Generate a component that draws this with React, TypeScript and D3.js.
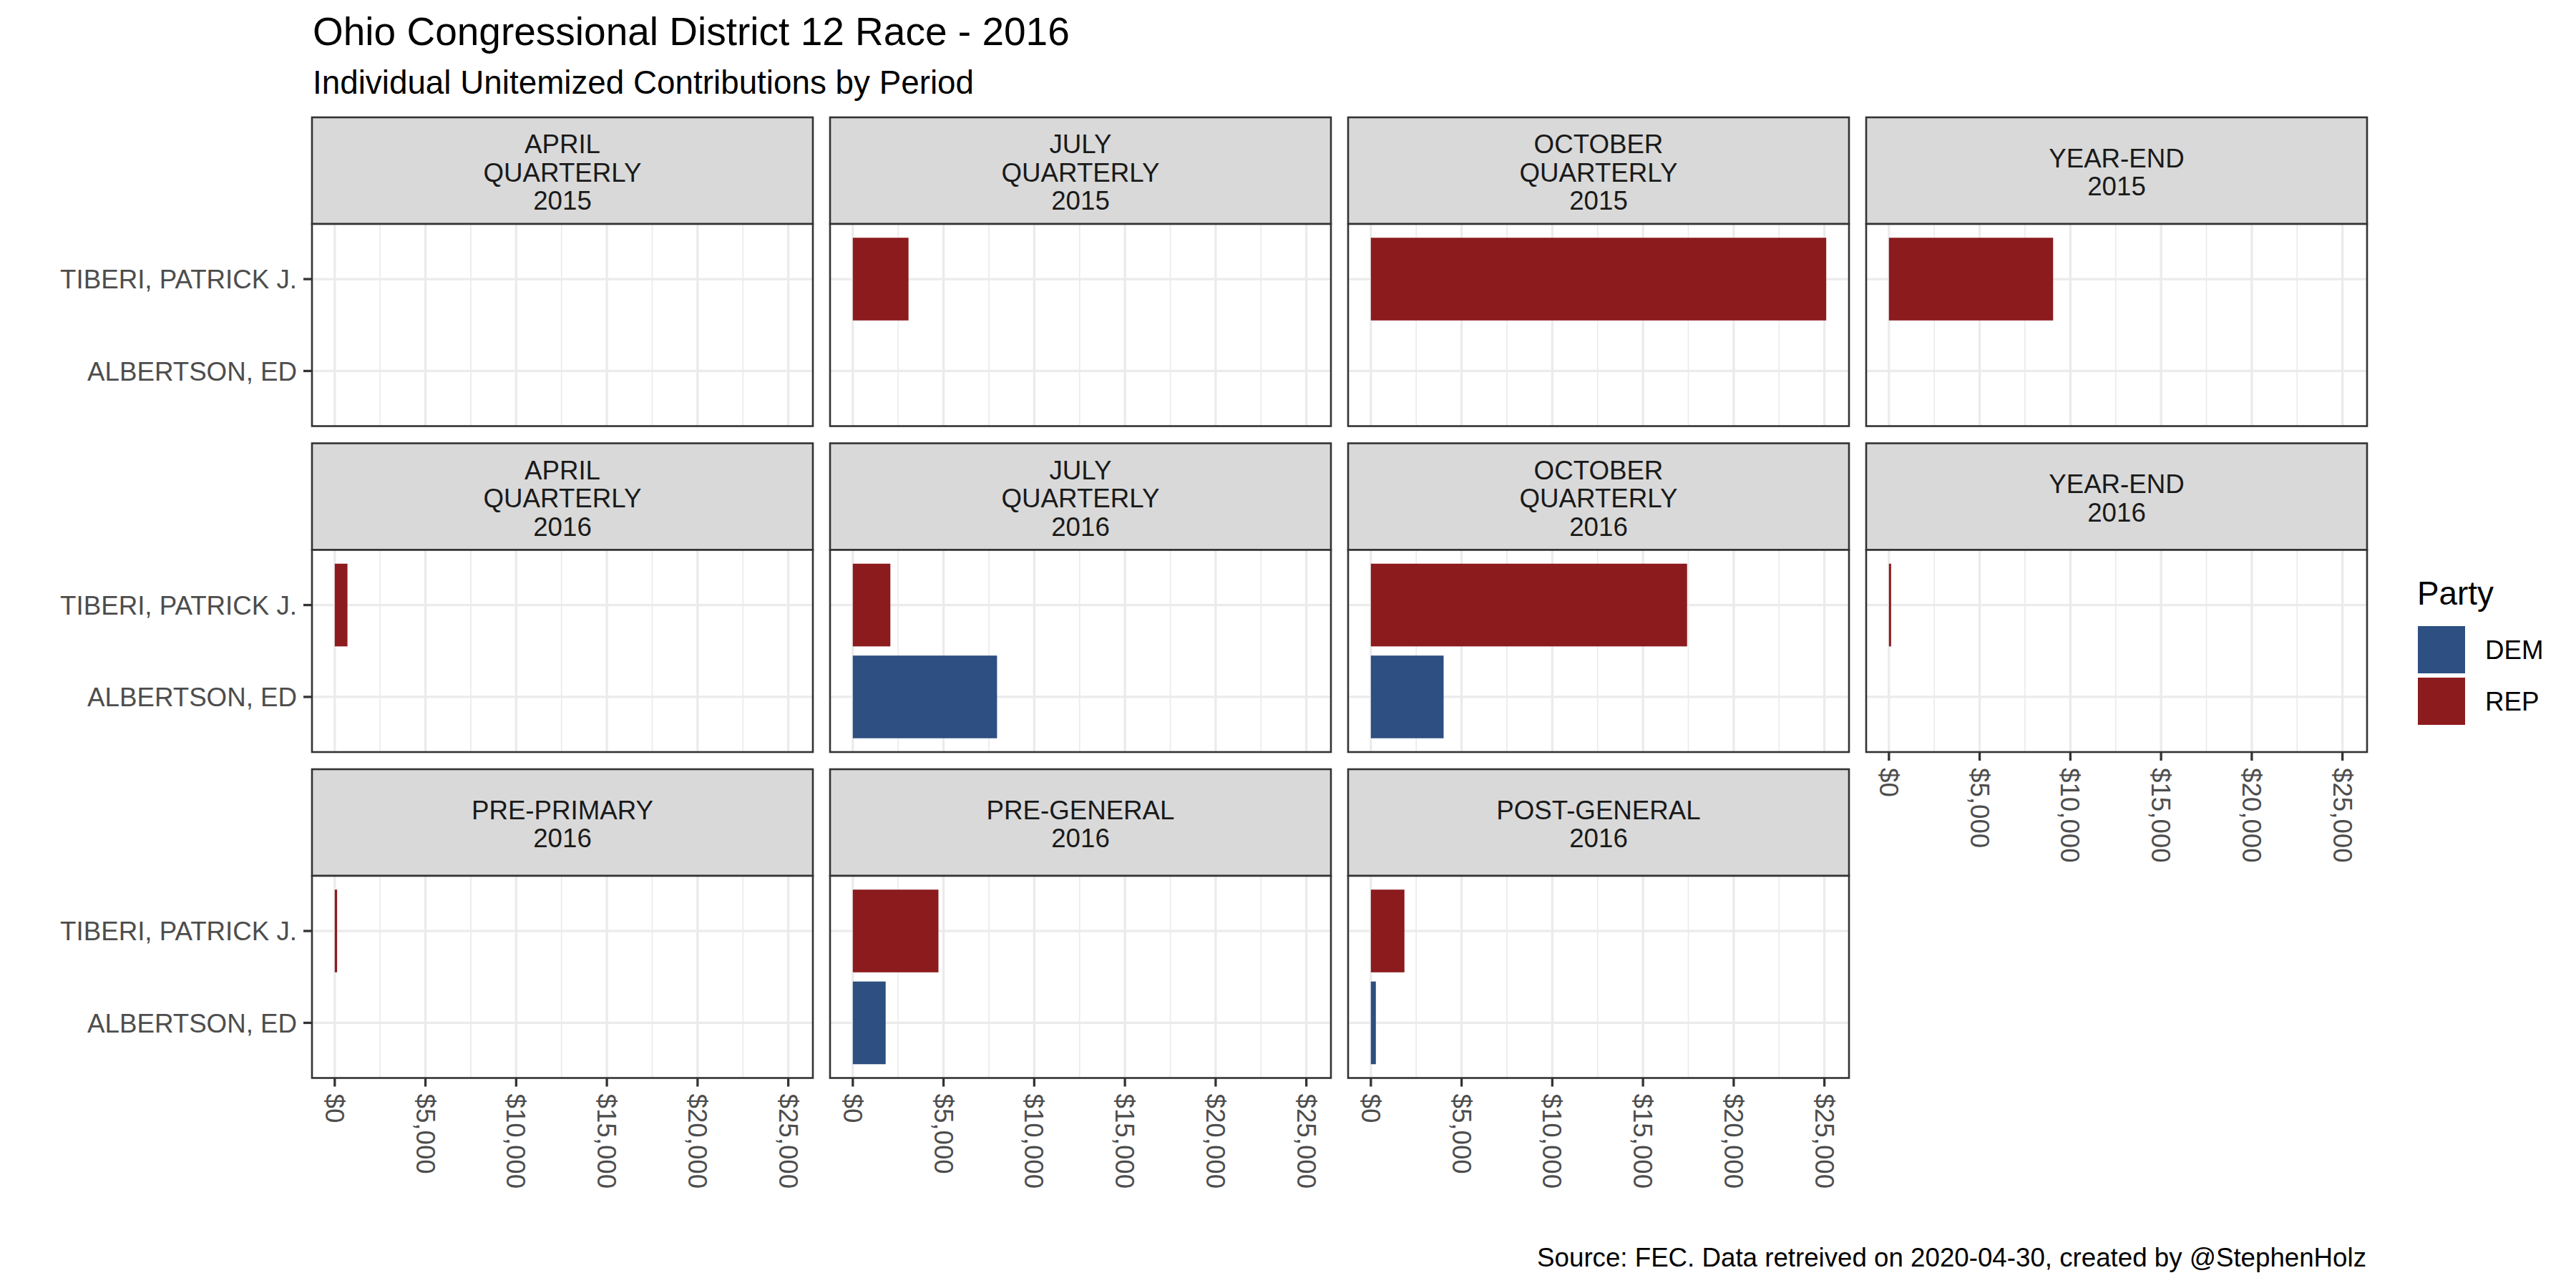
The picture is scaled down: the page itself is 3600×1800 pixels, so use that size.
import React from "react";
import * as d3 from "d3";

// ---- data ----
const periods: string[] = [
  "APRIL\nQUARTERLY\n2015",
  "JULY\nQUARTERLY\n2015",
  "OCTOBER\nQUARTERLY\n2015",
  "YEAR-END\n2015",
  "APRIL\nQUARTERLY\n2016",
  "JULY\nQUARTERLY\n2016",
  "OCTOBER\nQUARTERLY\n2016",
  "YEAR-END\n2016",
  "PRE-PRIMARY\n2016",
  "PRE-GENERAL\n2016",
  "POST-GENERAL\n2016",
];
const candidates: string[] = ["TIBERI, PATRICK J.", "ALBERTSON, ED"];
const candidateParty: string[] = ["REP", "DEM"];
const tiberiValues: (number | null)[] = [null, 3070, 25100, 9050, 700, 2070, 17430, 120, 130, 4720, 1850];
const albertsonValues: (number | null)[] = [null, null, null, null, null, 7950, 4010, null, null, 1810, 275];
const xTicks: number[] = [0, 5000, 10000, 15000, 20000, 25000];
const xMinor: number[] = [2500, 7500, 12500, 17500, 22500];
const parties: string[] = ["DEM", "REP"];
const partyColors: string[] = ["#2D4F81", "#8C1B1E"];

const W = 3600;
const H = 1800;
const COLS = 4;
const panelLeft0 = 436;
const panelW = 700;
const colGap = 24;
const rowTop0 = 164;
const rowPitch = 455.5;
const stripH = 149;
const panelH = 282.5;

const FONT = "'Liberation Sans', Arial, sans-serif";
const border = "#333333";

export default function App() {
  const maxVal = d3.max([...tiberiValues, ...albertsonValues].map((v) => v ?? 0)) as number;
  const x = d3
    .scaleLinear()
    .domain([-0.05 * maxVal, 1.05 * maxVal])
    .range([0, panelW]);
  const y = d3.scalePoint<string>().domain(candidates).range([0, panelH]).padding(0.6);
  const bandH = y.step() * 0.9;
  const color = d3.scaleOrdinal<string, string>().domain(parties).range(partyColors);
  const fmt = (v: number) => "$" + d3.format(",")(v);
  const seriesByCand = [tiberiValues, albertsonValues];
  const nRows = Math.ceil(periods.length / COLS);

  const panels = periods.map((label, i) => {
    const col = i % COLS;
    const row = Math.floor(i / COLS);
    const px = panelLeft0 + col * (panelW + colGap);
    const sy = rowTop0 + row * rowPitch;
    const py = sy + stripH;
    const lines = label.split("\n");
    const stripCenter = sy + stripH / 2;
    const showX = row === nRows - 1 || i + COLS >= periods.length;
    const showY = col === 0;
    return (
      <g key={i}>
        {/* strip */}
        <rect x={px} y={sy} width={panelW} height={stripH} fill="#D9D9D9" stroke={border} strokeWidth={2.6} />
        {lines.map((ln, k) => (
          <text
            key={k}
            x={px + panelW / 2}
            y={stripCenter + 15 + (k - (lines.length - 1) / 2) * 39.5}
            textAnchor="middle"
            fontFamily={FONT}
            fontSize={36.7}
            fill="#1A1A1A"
          >
            {ln}
          </text>
        ))}
        {/* panel */}
        <g transform={`translate(${px},${py})`}>
          <rect x={0} y={0} width={panelW} height={panelH} fill="#FFFFFF" />
          {xMinor.map((t) => (
            <line key={"m" + t} x1={x(t)} x2={x(t)} y1={0} y2={panelH} stroke="#EBEBEB" strokeWidth={1.7} />
          ))}
          {candidates.map((c) => (
            <line key={"h" + c} x1={0} x2={panelW} y1={y(c)} y2={y(c)} stroke="#EBEBEB" strokeWidth={3.3} />
          ))}
          {xTicks.map((t) => (
            <line key={"M" + t} x1={x(t)} x2={x(t)} y1={0} y2={panelH} stroke="#EBEBEB" strokeWidth={3.3} />
          ))}
          {candidates.map((c, ci) => {
            const v = seriesByCand[ci][i];
            if (v == null) return null;
            return (
              <rect
                key={"b" + c}
                x={x(0)}
                y={(y(c) as number) - bandH / 2}
                width={Math.max(0, x(v) - x(0))}
                height={bandH}
                fill={color(candidateParty[ci])}
              />
            );
          })}
          <rect x={0} y={0} width={panelW} height={panelH} fill="none" stroke={border} strokeWidth={2.6} />
          {showY &&
            candidates.map((c) => (
              <g key={"yl" + c}>
                <line x1={-12} x2={0} y1={y(c)} y2={y(c)} stroke={border} strokeWidth={3.3} />
                <text
                  x={-21}
                  y={y(c)}
                  dy="0.36em"
                  textAnchor="end"
                  fontFamily={FONT}
                  fontSize={36.7}
                  fill="#4D4D4D"
                >
                  {c}
                </text>
              </g>
            ))}
          {showX &&
            xTicks.map((t) => (
              <g key={"xl" + t}>
                <line x1={x(t)} x2={x(t)} y1={panelH} y2={panelH + 12} stroke={border} strokeWidth={3.3} />
                <text
                  transform={`translate(${x(t)},${panelH + 22}) rotate(90)`}
                  textAnchor="start"
                  dy="0.35em"
                  fontFamily={FONT}
                  fontSize={36.7}
                  fill="#4D4D4D"
                >
                  {fmt(t)}
                </text>
              </g>
            ))}
        </g>
      </g>
    );
  });

  return (
    <svg
      width={W}
      height={H}
      viewBox={`0 0 ${W} ${H}`}
      style={{ position: "absolute", left: 0, top: 0, background: "#FFFFFF" }}
    >
      <rect x={0} y={0} width={W} height={H} fill="#FFFFFF" />
      <text x={437} y={63} fontFamily={FONT} fontSize={55} fill="#000000">
        Ohio Congressional District 12 Race - 2016
      </text>
      <text x={437} y={131} fontFamily={FONT} fontSize={45.8} fill="#000000">
        Individual Unitemized Contributions by Period
      </text>
      {panels}
      {/* legend */}
      <text x={3378} y={845} fontFamily={FONT} fontSize={45.8} fill="#000000">
        Party
      </text>
      {parties.map((p, k) => (
        <g key={p} transform={`translate(3376,${872 + k * 72})`}>
          <rect x={3} y={3} width={66} height={66} fill={color(p)} />
          <text x={97} y={36} dy="0.36em" fontFamily={FONT} fontSize={36.7} fill="#000000">
            {p}
          </text>
        </g>
      ))}
      <text x={3307} y={1770} textAnchor="end" fontFamily={FONT} fontSize={36.7} fill="#000000">
        Source: FEC. Data retreived on 2020-04-30, created by @StephenHolz
      </text>
    </svg>
  );
}
